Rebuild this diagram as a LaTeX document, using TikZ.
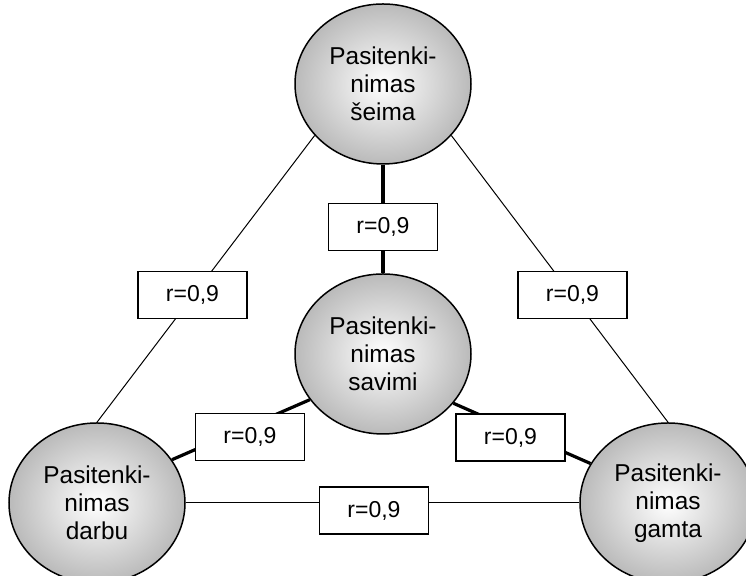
\documentclass[tikz,border=0pt]{standalone}
\usepackage{fontspec}
\setmainfont{Liberation Sans}
\usetikzlibrary{shapes.geometric}

\tikzset{
    sat/.style={ellipse, draw, line width=0.75pt, minimum width=88pt, minimum height=80pt,
        inner sep=0pt, align=center, shading=radial, inner color=white, outer color=black!27,
        font=\fontsize{12.2}{14}\selectfont},
    corr/.style={rectangle, draw, line width=0.8pt, fill=white, minimum width=54.5pt,
        minimum height=23.5pt, inner sep=0pt, font=\fontsize{11.5}{13}\selectfont},
    thin/.style={line width=0.5pt},
    thick/.style={line width=1.6pt}
}

\begin{document}
\begin{tikzpicture}[x=0.5pt, y=0.5pt]
            \useasboundingbox (0, 0) rectangle (746, 576);

            \node[sat] (seima) at (383, 492) {Pasitenki-\\nimas\\šeima};
            \node[sat] (savimi) at (383, 222) {Pasitenki-\\nimas\\savimi};
            \node[sat] (darbu) at (97, 73) {Pasitenki-\\nimas\\darbu};
            \node[sat] (gamta) at (668, 73) {Pasitenki-\\nimas\\gamta};

            \draw[thin] (seima.217) -- (darbu.north);
            \draw[thin] (seima.323) -- (gamta.north);
            \draw[thin] (darbu) -- (gamta);

            \draw[thick] (seima.south) -- (savimi.north);
            \draw[thick] (savimi.212) -- (darbu.30);
            \draw[thick] (savimi.325) -- (gamta.153);

            \node[corr] (rTop) at (383, 349) {r=0,9};
            \node[corr] (rLeft) at (192.5, 281) {r=0,9};
            \node[corr] (rRight) at (572.5, 281) {r=0,9};
            \node[corr] (rLowLeft) at (250, 139) {r=0,9};
            \node[corr] (rLowRight) at (510.5, 138.5) {r=0,9};
            \node[corr] (rBottom) at (374, 65.5) {r=0,9};

        \end{tikzpicture}
\end{document}
